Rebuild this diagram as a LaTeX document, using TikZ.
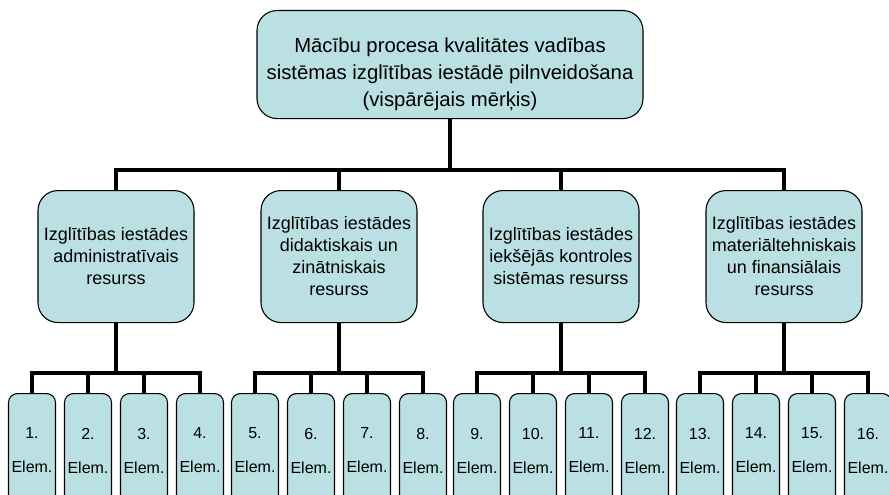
\documentclass[tikz,border=0pt]{standalone}
\usepackage{fontspec}
\setmainfont{Liberation Sans}
\definecolor{boxfill}{RGB}{187,224,227}

\begin{document}
\begin{tikzpicture}[x=1pt,y=-1pt,
    box/.style={draw=black,line width=1.1pt,fill=boxfill,rounded corners=20pt,align=center,inner sep=2pt,anchor=north},
    goal/.style={box,minimum width=386pt,minimum height=108pt,font=\fontsize{20.3}{27}\selectfont},
    res/.style={box,minimum width=156pt,minimum height=132pt,font=\fontsize{18}{22}\selectfont},
    elem/.style={box,rounded corners=9pt,minimum width=47pt,minimum height=114pt,font=\fontsize{16}{34}\selectfont},
    conn/.style={line width=4.2pt}]

    \useasboundingbox (0,0) rectangle (889,495);

    \node[goal] (goal) at (450,10) {\rule{0pt}{34pt}M\=ac\=ibu procesa kvalit\=ates vad\=ibas\\sist\=emas izgl\=it\=ibas iest\=ad\=e pilnveido\v{s}ana\\(visp\=ar\=ejais m\=erķis)};

    \node[res] (res1) at (116,190) {Izglītības iestādes\\administratīvais\\resurss};
    \node[res] (res2) at (339,190) {Izglītības iestādes\\didaktiskais un\\zinātniskais\\resurss};
    \node[res] (res3) at (561,190) {Izglītības iestādes\\iekšējās kontroles\\sistēmas resurss};
    \node[res] (res4) at (784,190) {Izglītības iestādes\\materiāltehniskais\\un finansiālais\\resurss};

    \node[elem] (el1) at (32,393) {1.\\Elem.};
    \node[elem] (el2) at (88,393) {2.\\Elem.};
    \node[elem] (el3) at (144,393) {3.\\Elem.};
    \node[elem] (el4) at (200,393) {4.\\Elem.};
    \node[elem] (el5) at (255,393) {5.\\Elem.};
    \node[elem] (el6) at (311,393) {6.\\Elem.};
    \node[elem] (el7) at (367,393) {7.\\Elem.};
    \node[elem] (el8) at (423,393) {8.\\Elem.};
    \node[elem] (el9) at (477,393) {9.\\Elem.};
    \node[elem] (el10) at (533,393) {10.\\Elem.};
    \node[elem] (el11) at (589,393) {11.\\Elem.};
    \node[elem] (el12) at (645,393) {12.\\Elem.};
    \node[elem] (el13) at (700,393) {13.\\Elem.};
    \node[elem] (el14) at (756,393) {14.\\Elem.};
    \node[elem] (el15) at (812,393) {15.\\Elem.};
    \node[elem] (el16) at (868,393) {16.\\Elem.};

    \coordinate (hub) at (450,170);
    \coordinate (split1) at (116,373);
    \coordinate (split2) at (339,373);
    \coordinate (split3) at (561,373);
    \coordinate (split4) at (784,373);

    \draw[conn] (goal.south) -- (hub) -| (res1.north);
    \draw[conn] (goal.south) -- (hub) -| (res2.north);
    \draw[conn] (goal.south) -- (hub) -| (res3.north);
    \draw[conn] (goal.south) -- (hub) -| (res4.north);

    \draw[conn] (res1.south) -- (split1) -| (el1.north);
    \draw[conn] (res1.south) -- (split1) -| (el2.north);
    \draw[conn] (res1.south) -- (split1) -| (el3.north);
    \draw[conn] (res1.south) -- (split1) -| (el4.north);
    \draw[conn] (res2.south) -- (split2) -| (el5.north);
    \draw[conn] (res2.south) -- (split2) -| (el6.north);
    \draw[conn] (res2.south) -- (split2) -| (el7.north);
    \draw[conn] (res2.south) -- (split2) -| (el8.north);
    \draw[conn] (res3.south) -- (split3) -| (el9.north);
    \draw[conn] (res3.south) -- (split3) -| (el10.north);
    \draw[conn] (res3.south) -- (split3) -| (el11.north);
    \draw[conn] (res3.south) -- (split3) -| (el12.north);
    \draw[conn] (res4.south) -- (split4) -| (el13.north);
    \draw[conn] (res4.south) -- (split4) -| (el14.north);
    \draw[conn] (res4.south) -- (split4) -| (el15.north);
    \draw[conn] (res4.south) -- (split4) -| (el16.north);
\end{tikzpicture}
\end{document}
